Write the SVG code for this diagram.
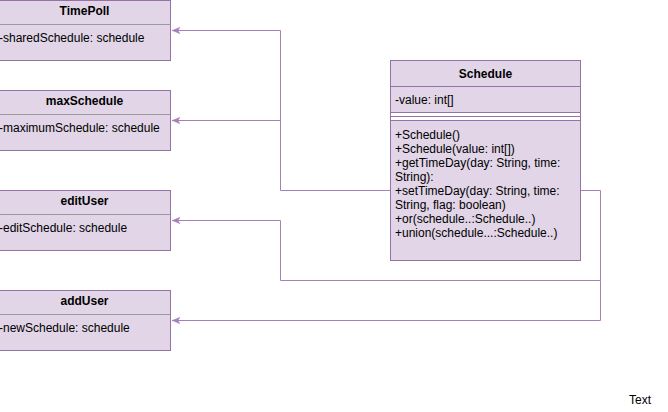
<svg xmlns="http://www.w3.org/2000/svg" width="668" height="412" viewBox="0 0 668 412">
<style>
.box{fill:#e1d5e7;stroke:#9673a6;stroke-width:1}
.sep{stroke:#999999;stroke-width:1;fill:none}
.psep{stroke:#9673a6;stroke-width:1;fill:none}
.t{font-family:"Liberation Sans",Arial,Helvetica,sans-serif;font-size:12px;fill:#000000}
.b{font-weight:bold;text-anchor:middle}
.edge{fill:none;stroke:#a680b8;stroke-width:1}
</style>
<defs>
<marker id="arr" markerUnits="userSpaceOnUse" viewBox="0 0 10 10" refX="10" refY="5" markerWidth="8" markerHeight="8" orient="auto">
<path d="M0,1 L10,5 L0,9 L2.5,5 Z" fill="#a680b8" stroke="#a680b8" stroke-width="0.5"/>
</marker>
</defs>
<rect width="668" height="412" fill="#ffffff"/>
<g id="connectors">
<path class="edge" d="M390.5,190.5 H280.5 V30.5 H172" marker-end="url(#arr)"/>
<path class="edge" d="M280.5,120.5 H172" marker-end="url(#arr)"/>
<path class="edge" d="M580.5,190.5 H600.5 V280.5 H280.5 V220.5 H172" marker-end="url(#arr)"/>
<path class="edge" d="M600.5,280.5 V320.5 H172" marker-end="url(#arr)"/>
</g>
<g id="TimePoll">
<rect class="box" x="-2" y="0.5" width="172.5" height="60"/>
<line class="sep" x1="-2" y1="24.5" x2="170.5" y2="24.5"/>
<text class="t b" x="84.5" y="15.3">TimePoll</text>
<text class="t" x="-1" y="42.3">-sharedSchedule: schedule</text>
</g>
<g id="maxSchedule">
<rect class="box" x="-2" y="90.5" width="172.5" height="60"/>
<line class="sep" x1="-2" y1="114.5" x2="170.5" y2="114.5"/>
<text class="t b" x="84.5" y="105.1">maxSchedule</text>
<text class="t" x="-1" y="132">-maximumSchedule: schedule</text>
</g>
<g id="editUser">
<rect class="box" x="-2" y="190.5" width="172.5" height="60"/>
<line class="sep" x1="-2" y1="214.5" x2="170.5" y2="214.5"/>
<text class="t b" x="84.5" y="205.1">editUser</text>
<text class="t" x="-1" y="232">-editSchedule: schedule</text>
</g>
<g id="addUser">
<rect class="box" x="-2" y="290.5" width="172.5" height="60"/>
<line class="sep" x1="-2" y1="314.5" x2="170.5" y2="314.5"/>
<text class="t b" x="84.5" y="305.1">addUser</text>
<text class="t" x="-1" y="331.8">-newSchedule: schedule</text>
</g>
<g id="Schedule">
<rect x="390.5" y="60.5" width="190" height="200" fill="#ffffff" stroke="#9673a6"/>
<rect class="box" x="390.5" y="60.5" width="190" height="26"/>
<rect class="box" x="390.5" y="86.5" width="190" height="26"/>
<line class="psep" x1="390.5" y1="116.5" x2="580.5" y2="116.5"/>
<rect class="box" x="390.5" y="120.5" width="190" height="140"/>
<text class="t b" x="485.5" y="77.8">Schedule</text>
<text class="t" x="395" y="103.8">-value: int[]</text>
<text class="t" x="395" y="139.3">+Schedule()</text>
<text class="t" x="395" y="153.2">+Schedule(value: int[])</text>
<text class="t" x="395" y="167.1">+getTimeDay(day: String, time:</text>
<text class="t" x="395" y="181">String):</text>
<text class="t" x="395" y="194.9">+setTimeDay(day: String, time:</text>
<text class="t" x="395" y="208.8">String, flag: boolean)</text>
<text class="t" x="395" y="222.7">+or(schedule..:Schedule..)</text>
<text class="t" x="395" y="236.6">+union(schedule...:Schedule..)</text>
</g>
<text class="t" x="640" y="404" text-anchor="middle">Text</text>
</svg>
